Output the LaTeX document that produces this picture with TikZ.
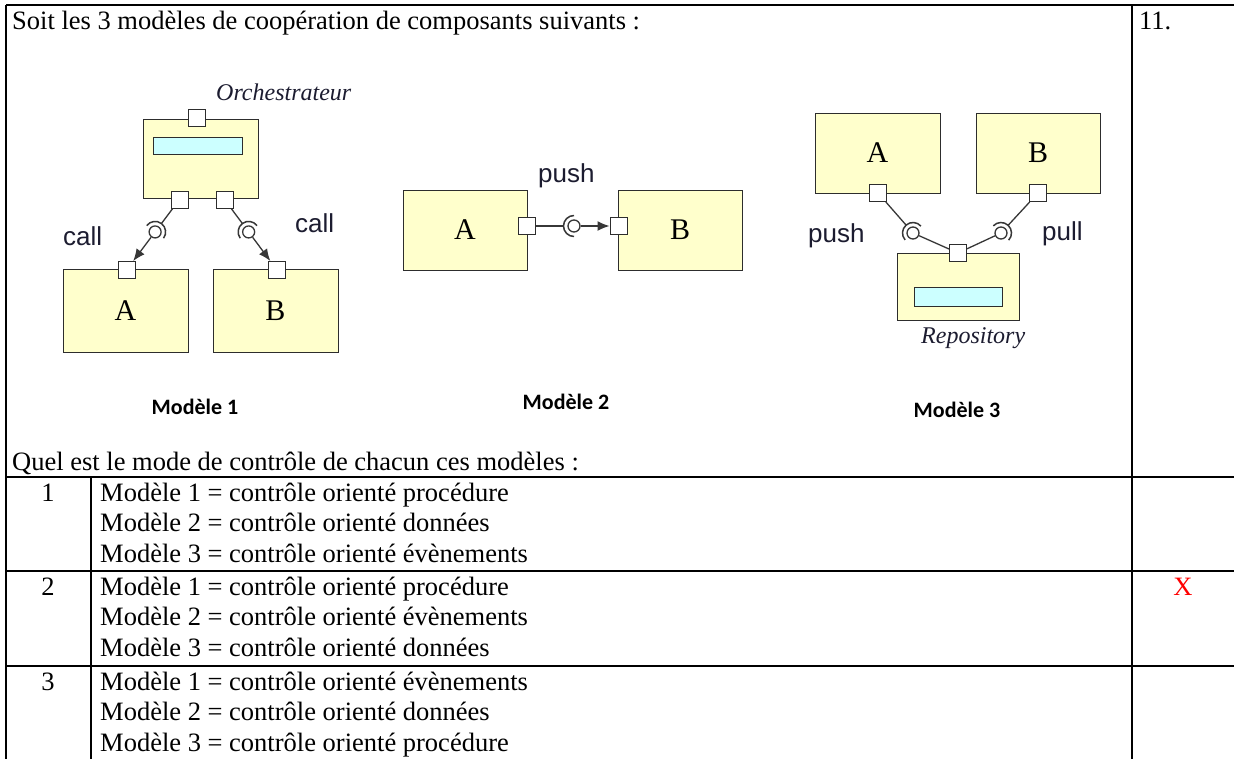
\documentclass[tikz,border=0pt]{standalone}
\usepackage{fontspec}
\setmainfont{Liberation Serif}
\newfontfamily\arialf{Liberation Sans}
\newfontfamily\calibf{Carlito}
\usetikzlibrary{arrows.meta,calc}
\definecolor{compfill}{RGB}{255,255,204}
\definecolor{barfill}{RGB}{204,255,255}
\definecolor{edgec}{RGB}{45,45,45}
\definecolor{wirec}{RGB}{55,55,55}
\definecolor{labc}{RGB}{28,28,48}
\definecolor{markred}{RGB}{255,0,0}

% socket arc around a ball, open towards the target, plus the wire from the source port
\newcommand\sockwire[2]{%
  \draw[wire] (#2) -- ($(#1)!10.5pt!(#2)$);
  \draw[wire, line width=1.5pt] let \p1=($(#2)-(#1)$), \n1={atan2(\y1,\x1)} in
    ($(#1)+(\n1-90:10.5pt)$) arc[start angle=\n1-90, end angle=\n1+90, radius=10.5pt];
}

\begin{document}
\begin{tikzpicture}[x=1pt,y=-1pt,
  rule/.style={line width=1.7pt, black},
  body/.style={font=\fontsize{26.5}{30}\selectfont, inner sep=0pt, anchor=base west},
  numtxt/.style={body, anchor=base},
  comp/.style={draw=edgec, fill=compfill, line width=1pt, inner sep=0pt,
    font=\fontsize{30}{32}\selectfont},
  bar/.style={draw=edgec, fill=barfill, line width=1pt, inner sep=0pt},
  port/.style={draw=edgec, fill=white, line width=1pt, minimum size=17pt, inner sep=0pt},
  ball/.style={circle, draw=wirec, fill=white, line width=1.3pt, minimum size=12pt, inner sep=0pt},
  wire/.style={draw=wirec, line width=1.3pt},
  arr/.style={wire, -{Latex[length=12pt,width=10pt]}},
  lbl/.style={font=\arialf\fontsize{26}{28}\selectfont, text=labc, inner sep=0pt, anchor=base west},
  role/.style={font=\itshape\fontsize{24}{26}\selectfont, text=labc, inner sep=0pt, anchor=base west},
  title/.style={font=\calibf\bfseries\fontsize{22}{24}\selectfont, text=black, inner sep=0pt}
]
\useasboundingbox (0,0) rectangle (1234,758);
\clip (0,0) rectangle (1234,758);
\fill[white] (0,0) rectangle (1234,758);

% ---- table rules ----
\draw[rule] (6,5) -- (1240,5);
\draw[rule] (6,5) -- (6,760);
\draw[rule] (1132,5) -- (1132,760);
\draw[rule] (6,477) -- (1240,477);
\draw[rule] (6,571) -- (1240,571);
\draw[rule] (6,666) -- (1240,666);
\draw[rule] (91,477) -- (91,760);

% ---- question text ----
\node[body] (intro) at (12,29) {Soit les 3 modèles de coopération de composants suivants :};
\node[body] (qnum) at (1139,29) {11.};
\node[body] (quest) at (12,470) {Quel est le mode de contrôle de chacun ces modèles :};

% ---- model 1 : orchestrator ----
\node[comp, minimum width=115pt, minimum height=79pt] (orch) at (200.5,158.5) {};
\node[bar, minimum width=89pt, minimum height=17pt] (orchbar) at (197.5,145.5) {};
\node[port] (orchtop) at (197,118) {};
\node[port] (orchl) at (179.5,199.5) {};
\node[port] (orchr) at (224.5,199.5) {};
\node[role] (orchname) at (216,100) {Orchestrateur};

\node[comp, minimum width=125pt, minimum height=83pt] (m1a) at (125.5,310.5) {A};
\node[comp, minimum width=125pt, minimum height=83pt] (m1b) at (275.5,310.5) {B};
\node[port] (m1pa) at (126.5,270) {};
\node[port] (m1pb) at (277,270) {};

\node[ball] (m1ballL) at ($(orchl)!0.46!(m1pa)$) {};
\node[ball] (m1ballR) at ($(orchr)!0.46!(m1pb)$) {};
\sockwire{m1ballL}{orchl}
\sockwire{m1ballR}{orchr}
\draw[arr] (m1ballL) -- (m1pa);
\draw[arr] (m1ballR) -- (m1pb);

\node[lbl] (call1) at (63,245) {call};
\node[lbl] (call2) at (295,232) {call};
\node[title] (t1) at (195,407) {Modèle 1};

% ---- model 2 : push between A and B ----
\node[comp, minimum width=124pt, minimum height=80pt] (m2a) at (465,230) {A};
\node[comp, minimum width=124pt, minimum height=80pt] (m2b) at (680,230) {B};
\node[port] (m2pa) at (527,226) {};
\node[port] (m2pb) at (618.5,226) {};
\node[ball] (m2ball) at (574,226) {};
\sockwire{m2ball}{m2pa}
\draw[arr] (m2ball) -- (m2pb);
\node[lbl] (push2) at (538,182) {push};
\node[title] (t2) at (566,402) {Modèle 2};

% ---- model 3 : shared repository ----
\node[comp, minimum width=125pt, minimum height=80pt] (m3a) at (877.5,153) {A};
\node[comp, minimum width=124pt, minimum height=80pt] (m3b) at (1038,153) {B};
\node[port] (m3pa) at (878,193) {};
\node[port] (m3pb) at (1038,193) {};
\node[comp, minimum width=122pt, minimum height=67pt] (repo) at (958,286.5) {};
\node[bar, minimum width=88pt, minimum height=19pt] (repobar) at (958,296.5) {};
\node[port] (repop) at (958,253) {};
\node[role] (reponame) at (921,343) {Repository};

\node[ball] (m3ballL) at (913,233) {};
\node[ball] (m3ballR) at (1001,233) {};
\sockwire{m3ballL}{m3pa}
\sockwire{m3ballR}{m3pb}
\draw[wire] (m3ballL) -- (repop);
\draw[wire] (m3ballR) -- (repop);
\node[lbl] (push3) at (808,242) {push};
\node[lbl] (pull3) at (1042,240) {pull};
\node[title] (t3) at (957,410) {Modèle 3};

% ---- answer rows ----
\node[numtxt] (n1) at (48,501) {1};
\node[body] (r1a) at (100,501) {Modèle 1 = contrôle orienté procédure};
\node[body] (r1b) at (100,531.5) {Modèle 2 = contrôle orienté données};
\node[body] (r1c) at (100,562) {Modèle 3 = contrôle orienté évènements};

\node[numtxt] (n2) at (48,595) {2};
\node[body] (r2a) at (100,595) {Modèle 1 = contrôle orienté procédure};
\node[body] (r2b) at (100,625.5) {Modèle 2 = contrôle orienté évènements};
\node[body] (r2c) at (100,656) {Modèle 3 = contrôle orienté données};
\node[numtxt, text=markred] (mark) at (1183,595) {X};

\node[numtxt] (n3) at (48,690) {3};
\node[body] (r3a) at (100,690) {Modèle 1 = contrôle orienté évènements};
\node[body] (r3b) at (100,720.5) {Modèle 2 = contrôle orienté données};
\node[body] (r3c) at (100,751) {Modèle 3 = contrôle orienté procédure};
\end{tikzpicture}
\end{document}
